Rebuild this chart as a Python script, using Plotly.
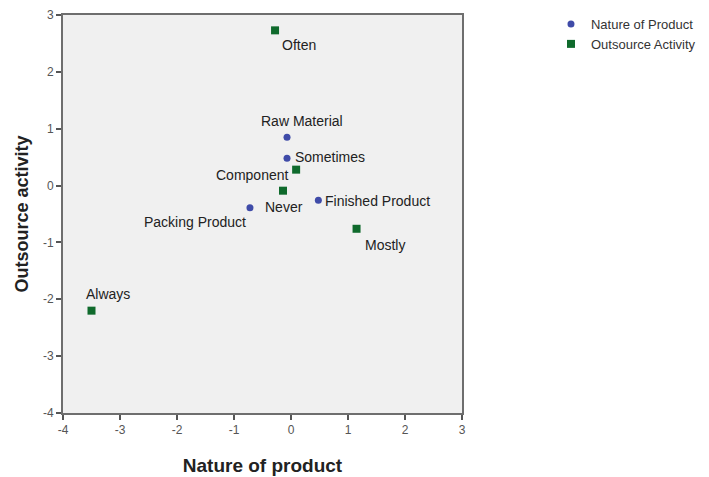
import plotly.graph_objects as go

# Category points (dimension 1 = Nature of product, dimension 2 = Outsource activity)
product_labels = ["Raw Material", "Component", "Finished Product", "Packing Product"]
product_x = [-0.07, -0.07, 0.48, -0.72]
product_y = [0.85, 0.48, -0.26, -0.39]

activity_labels = ["Often", "Sometimes", "Never", "Mostly", "Always"]
activity_x = [-0.28, 0.09, -0.14, 1.15, -3.50]
activity_y = [2.73, 0.28, -0.09, -0.76, -2.20]

tick_vals = [-4, -3, -2, -1, 0, 1, 2, 3]
tick_text = ["-4", "-3", "-2", "-1", "0", "1", "2", "3"]

FONT = "Arial, Liberation Sans, sans-serif"
BLUE = "#3f4ba8"
GREEN = "#0f6a2c"

fig = go.Figure()
fig.add_trace(go.Scatter(
    x=product_x, y=product_y, mode="markers", name="Nature of Product",
    marker=dict(symbol="circle", size=7, color=BLUE),
))
fig.add_trace(go.Scatter(
    x=activity_x, y=activity_y, mode="markers", name="Outsource Activity",
    marker=dict(symbol="square", size=8, color=GREEN),
))

# label placement around each point: (xanchor, xshift, yshift)
placement = {
    "Raw Material": ("center", 15, 16),
    "Component": ("right", 3, -17),
    "Finished Product": ("left", 5, -1),
    "Packing Product": ("right", -2, -14),
    "Often": ("left", 5, -15),
    "Sometimes": ("left", -3, 13),
    "Never": ("left", -20, -16),
    "Mostly": ("left", 6, -16),
    "Always": ("left", -8, 17),
}

for labels, xs, ys in [(product_labels, product_x, product_y),
                       (activity_labels, activity_x, activity_y)]:
    for lab, x, y in zip(labels, xs, ys):
        anc, dx, dy = placement[lab]
        fig.add_annotation(
            x=x, y=y, text=lab, showarrow=False,
            xanchor=anc, yanchor="middle", xshift=dx, yshift=dy,
            font=dict(family=FONT, size=14, color="#222222"),
        )

axis_common = dict(
    showgrid=False, zeroline=False, showline=True, linecolor="#6e6e6e",
    linewidth=2, mirror=True, ticks="outside", ticklen=5, tickwidth=2,
    tickcolor="#555555",
    tickfont=dict(family=FONT, size=12, color="#555555"),
    tickvals=tick_vals, ticktext=tick_text, range=[-4, 3],
)

fig.update_xaxes(
    title=dict(text="<b>Nature of product</b>", standoff=22,
               font=dict(family=FONT, size=19, color="#222222")),
    **axis_common,
)
fig.update_yaxes(
    title=dict(text="<b>Outsource activity</b>", standoff=10,
               font=dict(family=FONT, size=18, color="#222222")),
    **axis_common,
)

fig.update_layout(
    width=709, height=477,
    margin=dict(l=63, r=247, t=15, b=64, autoexpand=False),
    plot_bgcolor="#f0f0f0", paper_bgcolor="#ffffff",
    font=dict(family=FONT),
    legend=dict(
        x=1.223, y=1.015, xanchor="left", yanchor="top",
        font=dict(family=FONT, size=13, color="#333333"),
        itemwidth=30, bgcolor="rgba(0,0,0,0)", tracegroupgap=0,
    ),
)

fig.write_html("out.html")
